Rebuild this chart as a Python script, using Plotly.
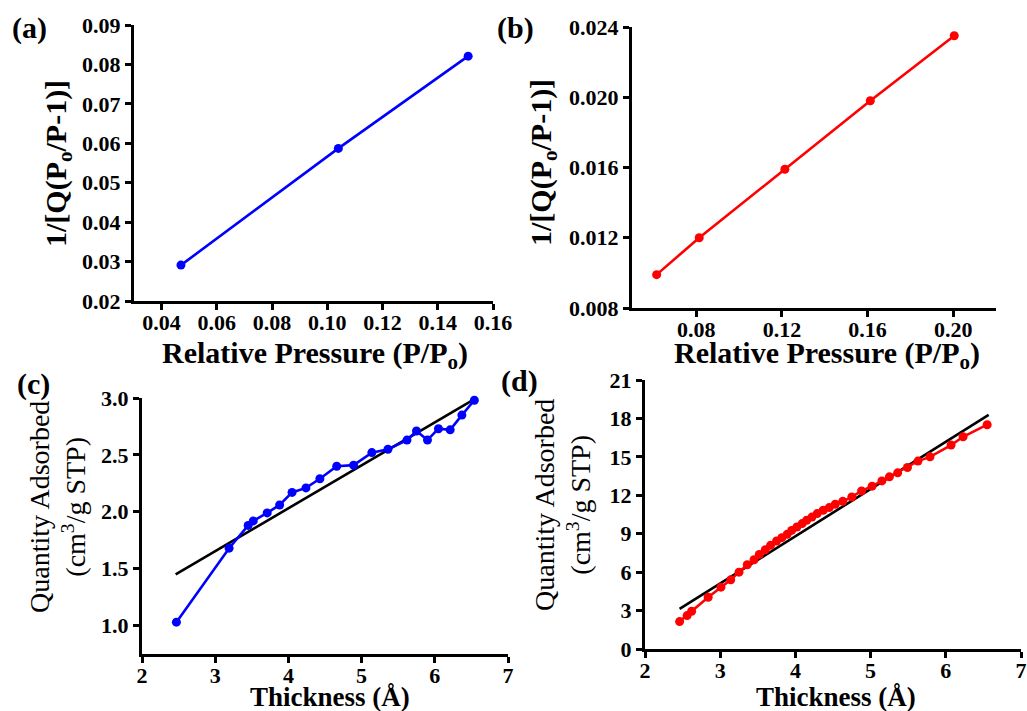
import plotly.graph_objects as go

# ---------------- data ----------------
a_x = [0.047, 0.104, 0.151]
a_y = [0.0291, 0.0587, 0.0821]

b_x = [0.0615, 0.0814, 0.1214, 0.1613, 0.2005]
b_y = [0.0099, 0.0120, 0.0159, 0.0198, 0.0235]

c_x = [2.47, 3.19, 3.45, 3.52, 3.71, 3.88, 4.05, 4.24, 4.43, 4.66,
       4.89, 5.14, 5.36, 5.62, 5.75, 5.90, 6.05, 6.21, 6.37, 6.54]
c_y = [1.03, 1.68, 1.88, 1.92, 1.99, 2.06, 2.17, 2.21, 2.29, 2.40,
       2.41, 2.52, 2.55, 2.63, 2.71, 2.63, 2.73, 2.72, 2.85, 2.98]
c_fit_x = [2.46, 6.53]
c_fit_y = [1.45, 2.985]

d_x = [2.46, 2.56, 2.62, 2.84, 3.01, 3.14, 3.25, 3.36, 3.45, 3.52,
       3.60, 3.67, 3.75, 3.82, 3.89, 3.95, 4.02, 4.09, 4.15, 4.22,
       4.29, 4.37, 4.45, 4.53, 4.63, 4.75, 4.88, 5.02, 5.15, 5.25,
       5.36, 5.49, 5.63, 5.79, 6.07, 6.23, 6.55]
d_y = [2.14, 2.61, 2.95, 4.04, 4.83, 5.40, 6.00, 6.58, 6.97, 7.38,
       7.75, 8.09, 8.43, 8.69, 8.95, 9.26, 9.52, 9.79, 10.05, 10.30,
       10.57, 10.83, 11.04, 11.30, 11.53, 11.87, 12.34, 12.71, 13.12, 13.44,
       13.75, 14.17, 14.67, 15.00, 15.92, 16.57, 17.51]
d_fit_x = [2.46, 6.57]
d_fit_y = [3.13, 18.27]

a_xticks = [0.04, 0.06, 0.08, 0.10, 0.12, 0.14, 0.16]
a_yticks = [0.02, 0.03, 0.04, 0.05, 0.06, 0.07, 0.08, 0.09]
b_xticks = [0.08, 0.12, 0.16, 0.20]
b_yticks = [0.008, 0.012, 0.016, 0.020, 0.024]
c_xticks = [2, 3, 4, 5, 6, 7]
c_yticks = [1.0, 1.5, 2.0, 2.5, 3.0]
d_xticks = [2, 3, 4, 5, 6, 7]
d_yticks = [0, 3, 6, 9, 12, 15, 18, 21]

BLUE = "rgb(0,0,255)"
RED = "rgb(255,0,0)"
FONT = "Liberation Serif, Tinos, Times New Roman, DejaVu Serif, serif"
W, H = 1027, 711

fig = go.Figure()

def add(x, y, color, xa, ya, markers=True):
    fig.add_trace(go.Scatter(
        x=x, y=y, mode="lines+markers" if markers else "lines",
        line=dict(color=color, width=2.6),
        marker=dict(color=color, size=9),
        xaxis=xa, yaxis=ya, showlegend=False, cliponaxis=False))

add(a_x, a_y, BLUE, "x", "y")
add(b_x, b_y, RED, "x2", "y2")
add(c_fit_x, c_fit_y, "black", "x3", "y3", markers=False)
add(c_x, c_y, BLUE, "x3", "y3")
add(d_fit_x, d_fit_y, "black", "x4", "y4", markers=False)
add(d_x, d_y, RED, "x4", "y4")

def px_dom_x(a, b):
    return [a / W, b / W]

def px_dom_y(top, bottom):
    return [1 - bottom / H, 1 - top / H]

tickfont = dict(family=FONT, size=22, color="black", weight="bold")
common = dict(showline=True, linecolor="black", linewidth=3, ticks="outside",
              ticklen=6, tickwidth=2.5, tickcolor="black", showgrid=False,
              zeroline=False, tickfont=tickfont, automargin=False)
xcommon = dict(common, ticklabelstandoff=-6)

def fmt(vals, f):
    return [f.format(v) for v in vals]

fig.update_layout(
    template="none",
    font=dict(family=FONT),
    xaxis=dict(domain=px_dom_x(134, 493), range=[0.03, 0.16], tickvals=a_xticks,
               ticktext=fmt(a_xticks, "{:.2f}"), anchor="y", **xcommon),
    yaxis=dict(domain=px_dom_y(25, 301), range=[0.02, 0.09], tickvals=a_yticks,
               ticktext=fmt(a_yticks, "{:.2f}"), anchor="x", **common),
    xaxis2=dict(domain=px_dom_x(632, 996), range=[0.05, 0.22], tickvals=b_xticks,
                ticktext=fmt(b_xticks, "{:.2f}"), anchor="y2", **xcommon),
    yaxis2=dict(domain=px_dom_y(27, 308), range=[0.008, 0.024], tickvals=b_yticks,
                ticktext=fmt(b_yticks, "{:.3f}"), anchor="x2", **common),
    xaxis3=dict(domain=px_dom_x(142, 508), range=[2, 7], tickvals=c_xticks,
                ticktext=fmt(c_xticks, "{:d}"), anchor="y3", **xcommon),
    yaxis3=dict(domain=px_dom_y(398, 654), range=[0.75, 3.0], tickvals=c_yticks,
                ticktext=fmt(c_yticks, "{:.1f}"), anchor="x3", **common),
    xaxis4=dict(domain=px_dom_x(645, 1021), range=[2, 7], tickvals=d_xticks,
                ticktext=fmt(d_xticks, "{:d}"), anchor="y4", **xcommon),
    yaxis4=dict(domain=px_dom_y(380, 649), range=[0, 21], tickvals=d_yticks,
                ticktext=fmt(d_yticks, "{:d}"), anchor="x4", **common),
    width=W, height=H, margin=dict(l=0, r=0, t=0, b=0, pad=0),
    paper_bgcolor="white", plot_bgcolor="white",
)

def ann(text, x, y, size, bold=True, angle=0):
    fig.add_annotation(text=text, x=x / W, y=1 - y / H, xref="paper", yref="paper",
                       showarrow=False, textangle=angle, xanchor="center", yanchor="middle",
                       font=dict(family=FONT, size=size, color="black",
                                 weight="bold" if bold else "normal"))

# panel labels
ann("(a)", 29, 28, 30)
ann("(b)", 515, 28, 30)
ann("(c)", 33, 384, 30)
ann("(d)", 519, 381, 30)

# x titles
ann("Relative Pressure (P/P<sub>o</sub>)", 315, 355, 30)
ann("Relative Pressure (P/P<sub>o</sub>)", 827, 355, 30)
ann("Thickness (Å)", 330, 697, 27)
ann("Thickness (Å)", 836, 697, 27)

# y titles
ann("1/[Q(P<sub>o</sub>/P-1)]", 58, 164, 30, angle=-90)
ann("1/[Q(P<sub>o</sub>/P-1)]", 543, 163, 30, angle=-90)
ann("Quantity Adsorbed<br>(cm<sup>3</sup>/g STP)", 58, 507, 28, bold=False, angle=-90)
ann("Quantity Adsorbed<br>(cm<sup>3</sup>/g STP)", 563, 505, 28, bold=False, angle=-90)

fig.write_html("out.html", config={"displayModeBar": False},
               post_script="document.body.style.margin='0';")
